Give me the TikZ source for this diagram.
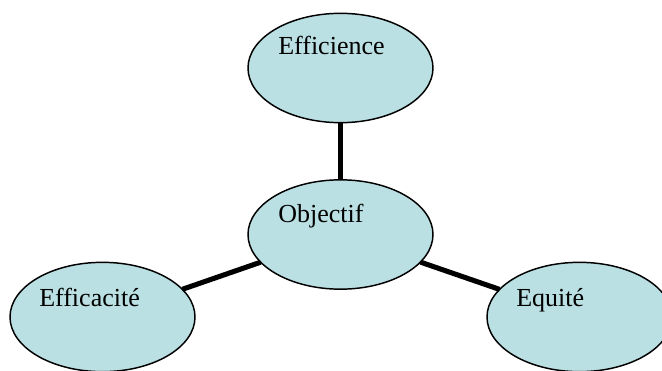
\documentclass[tikz,border=0pt]{standalone}
\usepackage{fontspec}
\setmainfont{Liberation Serif}
\usetikzlibrary{shapes.geometric,calc}
\definecolor{ellfill}{RGB}{187,224,227}
\begin{document}
\begin{tikzpicture}[x=0.75pt,y=-0.75pt,
  ell/.style={ellipse,draw=black,line width=1.1pt,fill=ellfill,
    minimum width=138.75pt,minimum height=82pt,inner sep=0pt,outer sep=0pt},
  lbl/.style={anchor=base west,inner sep=0pt,font=\fontsize{19.5pt}{22pt}\selectfont},
  conn/.style={line width=3.8pt,black}]
\useasboundingbox (0,0) rectangle (662,371);
\clip (0,0) rectangle (662,371);
\node[ell] (eff) at (340.5,68) {};
\node[ell] (obj) at (340.5,234.5) {};
\node[ell] (efa) at (102.5,317) {};
\node[ell] (equ) at (579.5,317) {};
\draw[conn] (eff) -- (obj);
\draw[conn] (obj) -- (efa);
\draw[conn] (obj) -- (equ);
\node[lbl] (efft) at ($(eff.west)+(30,-13)$) {Efficience};
\node[lbl] (objt) at ($(obj.west)+(30,-12.5)$) {Objectif};
\node[lbl] (efat) at ($(efa.west)+(29,-11)$) {Efficacité};
\node[lbl] (equt) at ($(equ.west)+(29,-11)$) {Equité};
\end{tikzpicture}
\end{document}
